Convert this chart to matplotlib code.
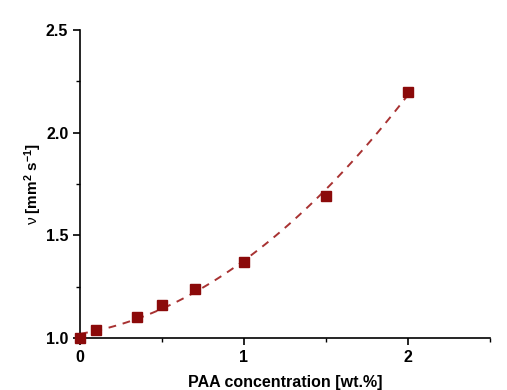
import numpy as np
import matplotlib
matplotlib.use("Agg")
import matplotlib.pyplot as plt
from matplotlib.ticker import MultipleLocator

# data
conc = [0.0, 0.1, 0.35, 0.5, 0.7, 1.0, 1.5, 2.0]
visc = [1.00, 1.04, 1.10, 1.16, 1.24, 1.37, 1.69, 2.20]

plt.rcParams['font.family'] = ['Liberation Sans', 'DejaVu Sans']
plt.rcParams['mathtext.fontset'] = 'custom'
plt.rcParams['mathtext.rm'] = 'Liberation Sans:bold'
plt.rcParams['mathtext.it'] = 'Liberation Sans:italic'
plt.rcParams['mathtext.sf'] = 'Liberation Sans'

fig = plt.figure(figsize=(5.07, 3.9), dpi=100)
ax = fig.add_axes([0.158, 0.1333, 0.808, 0.79])

# quadratic fit of the measured points
coef = np.polyfit(conc, visc, 2)
xf = np.linspace(0, 2, 100)
ax.plot(xf, np.polyval(coef, xf), '--', color='#a83232', linewidth=1.4, dashes=(4, 3.5))
ax.plot(conc, visc, 's', color='#8b0a0a', markersize=6.5, clip_on=False, zorder=3)

ax.set_xlim(0, 2.5)
ax.set_ylim(1.0, 2.5)
ax.xaxis.set_major_locator(MultipleLocator(1))
ax.xaxis.set_minor_locator(MultipleLocator(0.5))
ax.yaxis.set_major_locator(MultipleLocator(0.5))
ax.yaxis.set_minor_locator(MultipleLocator(0.25))
ax.xaxis.set_major_formatter(plt.FuncFormatter(lambda v, p: f"{v:g}"))
ax.yaxis.set_major_formatter(plt.FuncFormatter(lambda v, p: f"{v:.1f}"))

for s in ['top', 'right']:
    ax.spines[s].set_visible(False)
for s in ['left', 'bottom']:
    ax.spines[s].set_linewidth(1.2)
ax.tick_params(which='major', direction='out', length=5, width=1.2, labelsize=11.5)
ax.tick_params(which='minor', direction='out', length=3, width=1.0)
for lab in ax.get_xticklabels() + ax.get_yticklabels():
    lab.set_fontweight('bold')

ax.set_xlabel('PAA concentration [wt.%]', fontsize=11.5, fontweight='bold', labelpad=7)
ax.set_ylabel(r'$\mathsf{\nu}$ [mm$^{2}$ s$^{-1}$]', fontsize=11, fontweight='bold', labelpad=1)

fig.savefig('out.png', dpi=100)
